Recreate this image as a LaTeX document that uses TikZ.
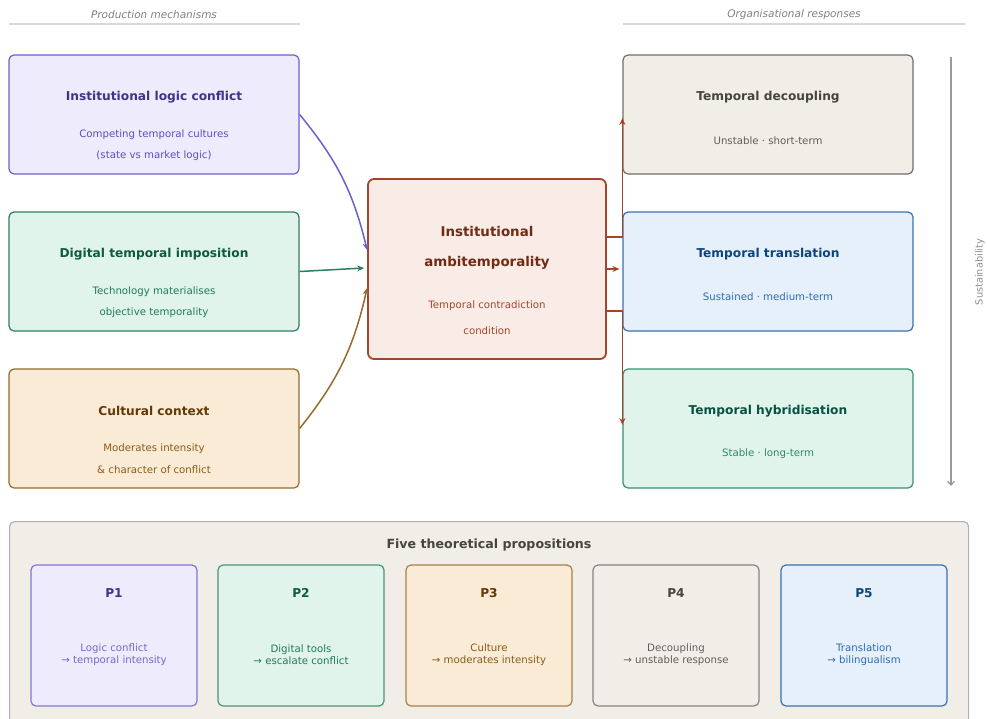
\documentclass[tikz,border=0pt]{standalone}
\usepackage{fontspec}
\setmainfont{DejaVu Sans}
\usetikzlibrary{arrows.meta}

% colours
\definecolor{purpfill}{HTML}{EEECFC}
\definecolor{purpline}{HTML}{6B5FCC}
\definecolor{purptitle}{HTML}{3C3489}
\definecolor{purpsub}{HTML}{5A4FC0}
\definecolor{grnfill}{HTML}{E1F4EC}
\definecolor{grnline}{HTML}{2A7F60}
\definecolor{grntitle}{HTML}{0C5A3F}
\definecolor{grnsub}{HTML}{1F7A58}
\definecolor{brnfill}{HTML}{FAEBD7}
\definecolor{brnline}{HTML}{966A2A}
\definecolor{brntitle}{HTML}{633806}
\definecolor{brnsub}{HTML}{8A5A14}
\definecolor{gryfill}{HTML}{F1EEE8}
\definecolor{gryline}{HTML}{6E6E6A}
\definecolor{grytitle}{HTML}{444441}
\definecolor{grysub}{HTML}{5F5E5A}
\definecolor{blufill}{HTML}{E6F0FA}
\definecolor{bluline}{HTML}{3A70B0}
\definecolor{blutitle}{HTML}{0C447C}
\definecolor{blusub}{HTML}{2E6CB5}
\definecolor{redfill}{HTML}{F9ECE6}
\definecolor{redline}{HTML}{A3452B}
\definecolor{redtitle}{HTML}{712B13}
\definecolor{hybline}{HTML}{3A9070}
\definecolor{hybtitle}{HTML}{085041}
\definecolor{hybsub}{HTML}{2B8A66}

\tikzset{
	box/.style={draw, rounded corners=5pt, line width=1.2pt, minimum width=290pt, minimum height=119pt, inner sep=0pt},
	pbox/.style={draw, rounded corners=5pt, line width=1.2pt, minimum width=166pt, minimum height=141pt, inner sep=0pt},
	ttl/.style={font=\fontsize{12.2}{14}\selectfont\bfseries, inner sep=0pt},
	sub/.style={font=\fontsize{10.2}{12}\selectfont, inner sep=0pt},
	ptxt/.style={font=\fontsize{10.2}{12.5}\selectfont, align=center, inner sep=0pt},
	head/.style={font=\fontsize{10.5}{12}\selectfont\itshape, text=black!50, inner sep=0pt},
	flow/.style={line width=1.5pt, -{Stealth[length=7pt,width=6pt]}},
}

\begin{document}
\begin{tikzpicture}[x=1pt,y=1pt]
	\useasboundingbox (0,0) rectangle (987,-718);

	% column headers
	\node[head] (hprod) at (154,-15) {Production mechanisms};
	\draw[black!15, line width=1.2pt] (9,-24) -- (300,-24);
	\node[head] (hresp) at (794,-15) {Organisational responses};
	\draw[black!15, line width=1.2pt] (623,-24) -- (965,-24);

	% production mechanisms
	\node[box, draw=purpline, fill=purpfill] (logic) at (154,-114.5) {};
	\node[ttl, text=purptitle] at (154,-97) {Institutional logic conflict};
	\node[sub, text=purpsub] at (154,-135) {Competing temporal cultures};
	\node[sub, text=purpsub] at (154,-156) {(state vs market logic)};

	\node[box, draw=grnline, fill=grnfill] (digital) at (154,-271.5) {};
	\node[ttl, text=grntitle] at (154,-254) {Digital temporal imposition};
	\node[sub, text=grnsub] at (154,-292) {Technology materialises};
	\node[sub, text=grnsub] at (154,-313) {objective temporality};

	\node[box, draw=brnline, fill=brnfill] (culture) at (154,-428.5) {};
	\node[ttl, text=brntitle] at (154,-411) {Cultural context};
	\node[sub, text=brnsub] at (154,-449) {Moderates intensity};
	\node[sub, text=brnsub] at (154,-470) {\&{} character of conflict};

	% central condition
	\node[draw=redline, fill=redfill, rounded corners=6pt, line width=1.8pt, minimum width=238pt, minimum height=180pt, inner sep=0pt] (amb) at (487,-269) {};
	\node[ttl, font=\fontsize{13.4}{15}\selectfont\bfseries, text=redtitle] at (487,-231) {Institutional};
	\node[ttl, font=\fontsize{13.4}{15}\selectfont\bfseries, text=redtitle] at (487,-263) {ambitemporality};
	\node[sub, text=redline] at (487,-306) {Temporal contradiction};
	\node[sub, text=redline] at (487,-331) {condition};

	% organisational responses
	\node[box, draw=gryline, fill=gryfill] (decoup) at (768,-114.5) {};
	\node[ttl, text=grytitle] at (768,-97) {Temporal decoupling};
	\node[sub, text=grysub] at (768,-141) {Unstable · short-term};

	\node[box, draw=bluline, fill=blufill] (transl) at (768,-271.5) {};
	\node[ttl, text=blutitle] at (768,-254) {Temporal translation};
	\node[sub, text=blusub] at (768,-297) {Sustained · medium-term};

	\node[box, draw=hybline, fill=grnfill] (hybrid) at (768,-428.5) {};
	\node[ttl, text=hybtitle] at (768,-411) {Temporal hybridisation};
	\node[sub, text=hybsub] at (768,-454) {Stable · long-term};

	% sustainability axis
	\coordinate (stop) at (951,-57);
	\coordinate (sbot) at (951,-486);
	\draw[black!40, line width=1.2pt, -{Straight Barb[length=4pt,width=7pt]}] (stop) -- (sbot);
	\node[sub, font=\fontsize{9.8}{11}\selectfont, text=black!45, rotate=90] (sust) at (980,-272) {Sustainability};

	% arrows into the condition
	\draw[flow, color=purpline] (logic.east) to[bend left=13] ([yshift=19pt]amb.west);
	\draw[flow, color=grnline] (digital.east) -- ([xshift=-3pt,yshift=1pt]amb.west);
	\draw[flow, color=brnline] (culture.east) to[bend right=13] ([yshift=-19pt]amb.west);

	% arrows out to the responses
	\draw[flow, color=redline] ([yshift=32pt]amb.east) -| ([yshift=-3.5pt]decoup.west);
	\draw[flow, color=redline] (amb.east) -- ([xshift=-3pt,yshift=2.5pt]transl.west);
	\draw[flow, color=redline] ([yshift=-42pt]amb.east) -| ([yshift=3.5pt]hybrid.west);

	% propositions panel
	\node[draw=black!30, fill=gryfill, rounded corners=5pt, line width=1.2pt, minimum width=959pt, minimum height=210pt, inner sep=0pt, anchor=north west] (panel) at (9,-521) {};
	\node[ttl, font=\fontsize{12.6}{14}\selectfont\bfseries, text=grytitle] (ptitle) at (489,-545) {Five theoretical propositions};

	\node[pbox, draw=purpline!85, fill=purpfill] (p1) at (114,-635.5) {};
	\node[ttl, text=purptitle] at (114,-593) {P1};
	\node[ptxt, text=purpsub!85] at (114,-654.5) {Logic conflict\\→ temporal intensity};

	\node[pbox, draw=grnline!85, fill=grnfill] (p2) at (301,-635.5) {};
	\node[ttl, text=grntitle] at (301,-593) {P2};
	\node[ptxt, text=grnsub] at (301,-654.5) {Digital tools\\→ escalate conflict};

	\node[pbox, draw=brnline!85, fill=brnfill] (p3) at (489,-635.5) {};
	\node[ttl, text=brntitle] at (489,-593) {P3};
	\node[ptxt, text=brnsub] at (489,-654.5) {Culture\\→ moderates intensity};

	\node[pbox, draw=gryline!85, fill=gryfill] (p4) at (676,-635.5) {};
	\node[ttl, text=grytitle] at (676,-593) {P4};
	\node[ptxt, text=grysub] at (676,-654.5) {Decoupling\\→ unstable response};

	\node[pbox, draw=bluline, fill=blufill] (p5) at (864,-635.5) {};
	\node[ttl, text=blutitle] at (864,-593) {P5};
	\node[ptxt, text=blusub] at (864,-654.5) {Translation\\→ bilingualism};
\end{tikzpicture}
\end{document}
